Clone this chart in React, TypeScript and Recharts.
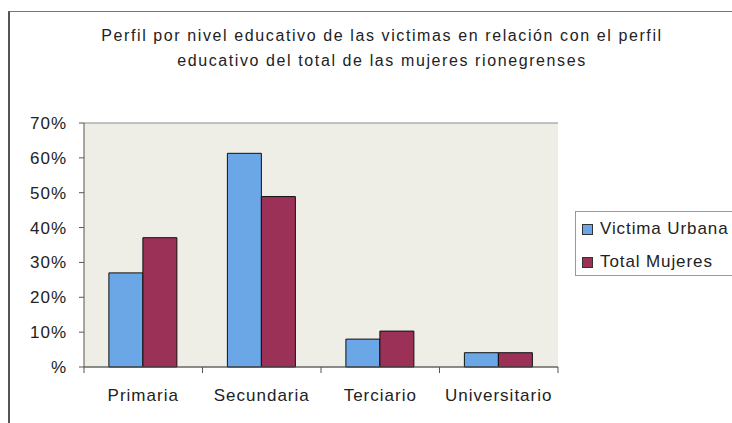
import { BarChart, Bar, XAxis, YAxis, CartesianGrid } from 'recharts'

const categories = ['Primaria', 'Secundaria', 'Terciario', 'Universitario']
const victimaUrbana = [27, 61.3, 8, 4.1]
const totalMujeres = [37.1, 48.9, 10.3, 4.1]
const yTicks = [0, 10, 20, 30, 40, 50, 60, 70]

const SERIES = [
  { key: 'victima', name: 'Victima Urbana', color: '#6ba6e6' },
  { key: 'total', name: 'Total Mujeres', color: '#9b3156' },
]

const data = categories.map((name, i) => ({
  name,
  victima: victimaUrbana[i],
  total: totalMujeres[i],
}))

const FONT = '"Liberation Sans", Arial, sans-serif'

function CategoryTick(props: any) {
  const { x, y, payload, index } = props
  const off = payload?.offset ?? 59
  return (
    <g>
      <line x1={x - off} y1={y} x2={x - off} y2={y + 6} stroke="#555" />
      {index === categories.length - 1 && (
        <line x1={x + off} y1={y} x2={x + off} y2={y + 6} stroke="#555" />
      )}
      <text
        x={x}
        y={y + 34}
        textAnchor="middle"
        fill="#222"
        fontSize={17}
        letterSpacing={1}
        fontFamily={FONT}
      >
        {payload.value}
      </text>
    </g>
  )
}

export default function App() {
  return (
    <div
      style={{
        position: 'fixed',
        left: 8,
        top: 8,
        width: 724,
        height: 415,
        overflow: 'hidden',
      }}
    >
      <div
        style={{
          position: 'absolute',
          left: 0,
          top: 3,
          width: 800,
          height: 420,
          borderLeft: '2px solid #555',
          borderTop: '1px solid #777',
          background: '#fff',
        }}
      >
        <div
          style={{
            position: 'absolute',
            left: 0,
            top: 11,
            width: 744,
            textAlign: 'center',
            fontFamily: FONT,
            fontSize: 16,
            letterSpacing: 1.6,
            lineHeight: '25px',
            color: '#222',
          }}
        >
          Perfil por nivel educativo de las victimas en relación con el perfil
          <br />
          educativo del total de las mujeres rionegrenses
        </div>

        <div style={{ position: 'absolute', left: 0, top: 0 }}>
          <BarChart
            width={760}
            height={410}
            data={data}
            margin={{ top: 111, right: 212, bottom: 25, left: 0 }}
            barCategoryGap="21%"
            barGap={0}
          >
            <CartesianGrid
              vertical={false}
              stroke="#8c8c8c"
              fill="#efeee6"
              fillOpacity={1}
            />
            <XAxis
              dataKey="name"
              tick={<CategoryTick />}
              tickLine={false}
              tickSize={0}
              tickMargin={0}
              axisLine={{ stroke: '#555' }}
              height={30}
              interval={0}
            />
            <YAxis
              yAxisId="l"
              domain={[0, 70]}
              ticks={yTicks}
              width={74}
              tickSize={5}
              tickMargin={12}
              tickLine={{ stroke: '#555' }}
              axisLine={{ stroke: '#555' }}
              tickFormatter={(v: number) => (v === 0 ? '%' : `${v}%`)}
              tick={{ fill: '#222', fontSize: 17, fontFamily: FONT, letterSpacing: 1 }}
            />
            <YAxis
              yAxisId="r"
              orientation="right"
              domain={[0, 70]}
              width={0}
              tick={false}
              tickLine={false}
              axisLine={{ stroke: '#c8c8c8' }}
            />
            {SERIES.map((s) => (
              <Bar
                key={s.key}
                yAxisId="l"
                dataKey={s.key}
                name={s.name}
                fill={s.color}
                stroke="#111"
                strokeWidth={1}
                isAnimationActive={false}
              />
            ))}
          </BarChart>
        </div>

        <div
          style={{
            position: 'absolute',
            left: 565,
            top: 199,
            width: 220,
            height: 63,
            border: '1px solid #999',
            background: '#fff',
            fontFamily: FONT,
            fontSize: 17,
            letterSpacing: 0.9,
            color: '#222',
          }}
        >
          {SERIES.map((s, i) => (
            <div
              key={s.key}
              style={{
                position: 'absolute',
                left: 6,
                top: 6 + i * 33,
                height: 22,
                display: 'flex',
                alignItems: 'center',
                whiteSpace: 'nowrap',
              }}
            >
              <span
                style={{
                  display: 'inline-block',
                  width: 9,
                  height: 9,
                  background: s.color,
                  border: '1px solid #333',
                  marginRight: 7,
                }}
              />
              {s.name}
            </div>
          ))}
        </div>
      </div>
    </div>
  )
}
